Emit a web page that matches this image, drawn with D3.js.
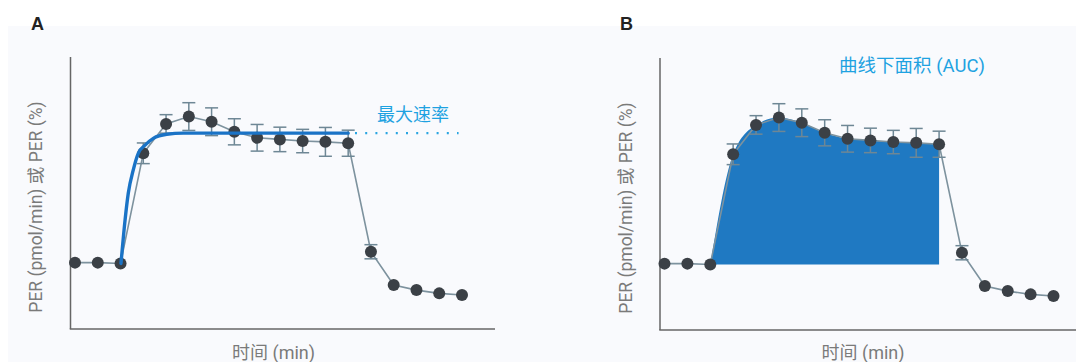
<!DOCTYPE html>
<html><head><meta charset="utf-8">
<script src="https://cdn.jsdelivr.net/npm/d3@7"></script>
<style>
html,body{margin:0;padding:0;background:#fff;}
svg{display:block;}
text{font-family:Roboto,"Noto Sans CJK SC",sans-serif;}
</style></head>
<body><svg id="c" width="1076" height="362"></svg>
<script>
// ---- data ----
const timeIdx   = [0,1,2,3,4,5,6,7,8,9,10,11,12,13,14,15,16,17];
const perMean   = [24.4,24.4,24.1,64.6,75.4,78.1,76.2,72.5,70.3,69.7,69.1,68.8,68.3,28.4,16.2,14.3,13.1,12.5];
const perErr    = [0,0,0,3.8,3.4,5.1,5.1,4.8,4.9,4.5,4.3,5.3,4.8,2.6,0,0,0,0];
const fitTime   = [2.02,2.2,2.34,2.56,2.78,3.08,3.44,4.03,4.76,5.49,12];
const fitValue  = [24.1,40.1,49.9,58.5,64.6,67.6,70.1,71.6,72.0,72.0,72.0];
const maxRate   = 72.0;
const maxRateExt = [12.3, 16.85];
const aucStart = 2, aucEnd = 12;
const panelLetters = ["A","B"];
const yLabel = "PER (pmol/min) 或 PER (%)";
const xLabel = "时间 (min)";
const maxRateLabel = "最大速率";
const aucLabel = "曲线下面积 (AUC)";

const svg = d3.select("#c");
svg.append("rect").attr("x",8).attr("y",26).attr("width",1068).attr("height",336).attr("fill","#f9fafd");

const pts = timeIdx.map((t,i)=>({t, v:perMean[i], e:perErr[i]}));

function panel(cfg){
  const g = svg.append("g");
  const x = d3.scaleLinear().domain([0,17]).range([cfg.ox+4.5, cfg.ox+4.5+cfg.w]);
  const y = d3.scaleLinear().domain([0,100]).range([cfg.bottom, cfg.bottom-272]);

  // letter
  svg.append("text").attr("x",cfg.letterX).attr("y",29.5).attr("font-size",18).attr("font-weight","bold")
     .attr("fill","#222").style("font-family","'Liberation Sans',Arial,sans-serif").text(cfg.letter);

  // AUC area
  if(cfg.auc){
    const sub = pts.filter(d=>d.t>=aucStart && d.t<=aucEnd);
    g.append("path").datum(sub)
      .attr("d", d3.area().x(d=>x(d.t)).y0(y(perMean[aucStart])).y1(d=>y(d.v)).curve(d3.curveMonotoneX))
      .attr("fill","#1f79c2");
    g.append("text").attr("x",cfg.ox+252).attr("y",71.5).attr("text-anchor","middle")
      .attr("font-size",18.5).attr("fill","#1ea2e1").text(aucLabel);
  }

  // axes
  g.append("line").attr("x1",cfg.ox).attr("x2",cfg.ox).attr("y1",y(100)).attr("y2",y(0))
    .attr("stroke","#666").attr("stroke-width",1.5);
  g.append("line").attr("x1",cfg.ox-0.75).attr("x2",cfg.xEnd).attr("y1",y(0)).attr("y2",y(0))
    .attr("stroke","#666").attr("stroke-width",1.5);

  // connecting line
  g.append("path").datum(pts)
    .attr("d", d3.line().x(d=>x(d.t)).y(d=>y(d.v)))
    .attr("fill","none").attr("stroke","#7d929e").attr("stroke-width",1.6);

  // error bars
  const eb = g.append("g").attr("stroke","#6e8795").attr("stroke-width",1.5);
  pts.filter(d=>d.e>0).forEach(d=>{
    const cx=x(d.t);
    eb.append("line").attr("x1",cx).attr("x2",cx).attr("y1",y(d.v+d.e)).attr("y2",y(d.v-d.e));
    eb.append("line").attr("x1",cx-6.5).attr("x2",cx+6.5).attr("y1",y(d.v+d.e)).attr("y2",y(d.v+d.e));
    eb.append("line").attr("x1",cx-6.5).attr("x2",cx+6.5).attr("y1",y(d.v-d.e)).attr("y2",y(d.v-d.e));
  });

  // points
  g.selectAll("circle.p").data(pts).join("circle").attr("class","p")
    .attr("cx",d=>x(d.t)).attr("cy",d=>y(d.v)).attr("r",6).attr("fill","#3b4046");

  // fit curve
  if(cfg.fit){
    const fd = fitTime.map((t,i)=>({t, v:fitValue[i]}));
    g.append("path").datum(fd)
      .attr("d", d3.line().x(d=>x(d.t)).y(d=>y(d.v)).curve(d3.curveMonotoneX))
      .attr("fill","none").attr("stroke","#1a73c6").attr("stroke-width",3.4).attr("stroke-linecap","round");
    g.append("line").attr("x1",x(maxRateExt[0])).attr("x2",x(maxRateExt[1])).attr("y1",y(maxRate)).attr("y2",y(maxRate))
      .attr("stroke","#2aa5e2").attr("stroke-width",2.2).attr("stroke-dasharray","2,8.2");
    g.append("text").attr("x",x(14.85)).attr("y",y(maxRate)-12).attr("text-anchor","middle")
      .attr("font-size",18).attr("fill","#1ea2e1").text(maxRateLabel);
  }

  // labels
  g.append("text").attr("transform",`translate(${cfg.ox-33},${(y(0)+y(100))/2+14}) rotate(-90)`)
    .attr("text-anchor","middle").attr("dominant-baseline","middle")
    .attr("font-size",17.5).attr("fill","#7a7a7a").text(yLabel);
  g.append("text").attr("x",cfg.ox+203).attr("y",358.5)
    .attr("text-anchor","middle").attr("font-size",18).attr("fill","#7a7a7a").text(xLabel);
}

panel({letter:panelLetters[0], letterX:31, ox:70.5, bottom:329, w:387, xEnd:495, fit:true, auc:false});
panel({letter:panelLetters[1], letterX:620, ox:660, bottom:330, w:389, xEnd:1076, fit:false, auc:true});
</script></body></html>
